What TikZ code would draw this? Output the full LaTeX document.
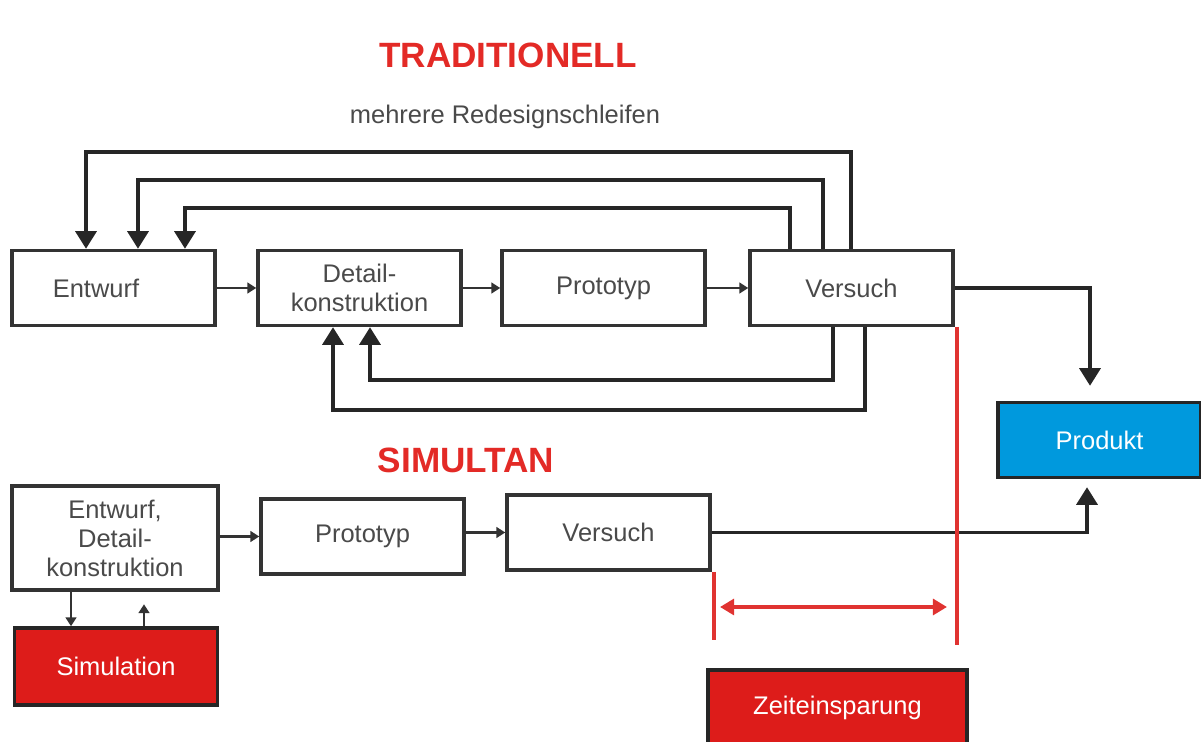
\documentclass[tikz,border=0pt]{standalone}
\usepackage{fontspec}
\setmainfont{Liberation Sans}
\usetikzlibrary{arrows.meta}
\definecolor{boxred}{HTML}{DD1C1A}
\definecolor{titlered}{HTML}{E32A26}
\definecolor{prodblue}{HTML}{0099DD}
\definecolor{txtgrey}{HTML}{4A4A4A}
\tikzset{
  box/.style={draw=black!80, line width=2pt, fill=white, minimum width=4.06cm, minimum height=1.5cm,
    align=center, text=txtgrey, font=\fontsize{14.5}{16.5}\selectfont},
  flow/.style={draw=black!80, line width=1.6pt, -{Triangle[length=5pt,width=6pt]}},
  fb/.style={draw=black!85, line width=1.8pt, -{Triangle[length=10pt,width=12pt]}},
  zeit/.style={draw=boxred!90, line width=2.2pt},
}
\begin{document}
\begin{tikzpicture}[x=0.02cm,y=-0.02cm]
		\useasboundingbox (0,0) rectangle (1201,742);

		\node[font=\bfseries\fontsize{20}{24}\selectfont, text=titlered] (trad) at (508,55) {TRADITIONELL};
		\node[font=\fontsize{14.5}{16}\selectfont, text=txtgrey] (redes) at (505,117) {mehrere Redesignschleifen};
		\node[font=\bfseries\fontsize{20}{24}\selectfont, text=titlered] (simu) at (466,460) {SIMULTAN};

		% traditionell
		\node[box] (ent) at (113.5,288) {\hspace*{-0.7cm}Entwurf};
		\node[box] (det) at (359.5,288) {Detail-\\konstruktion};
		\node[box] (pro) at (603.5,288) {Prototyp};
		\node[box] (ver) at (851.5,288) {Versuch};
		\node[box, fill=prodblue, text=white, draw=black!85] (prod) at (1099.5,440) {Produkt};

		\draw[flow] (ent) -- (det);
		\draw[flow] (det) -- (pro);
		\draw[flow] (pro) -- (ver);

		\draw[fb] ([xshift=-0.01cm]ver.north) |- (500,152) -| ([xshift=-0.55cm]ent.north);
		\draw[fb] ([xshift=-0.57cm]ver.north) |- (500,180) -| ([xshift=0.49cm]ent.north);
		\draw[fb] ([xshift=-1.23cm]ver.north) |- (500,208) -| ([xshift=1.43cm]ent.north);

		\draw[fb] ([xshift=-0.37cm]ver.south) |- (600,380) -| ([xshift=0.21cm]det.south);
		\draw[fb] ([xshift=0.27cm]ver.south) |- (600,410) -| ([xshift=-0.53cm]det.south);

		\draw[fb, shorten >=0.3cm] (ver.east) -| ([xshift=-0.19cm]prod.north);

		% simultan
		\node[box, minimum width=4.12cm, minimum height=2.08cm] (ent2) at (115,538) {Entwurf,\\Detail-\\konstruktion};
		\node[box] (pro2) at (362.5,536.5) {Prototyp};
		\node[box] (ver2) at (608.5,532.5) {Versuch};
		\node[box, fill=boxred, text=white, draw=black!85, minimum height=1.54cm] (sim) at (116,666.5) {Simulation};
		\node[box, fill=boxred, text=white, draw=black!85, minimum width=5.18cm] (spar) at (837.5,707.5) {Zeiteinsparung};

		\draw[flow] (ent2.east |- pro2) -- (pro2);
		\draw[flow] (pro2.east |- ver2) -- (ver2);
		\draw[flow] ([xshift=-0.88cm]ent2.south) -- ([xshift=-0.88cm]ent2.south |- sim.north);
		\draw[flow, shorten >=0.25cm] ([xshift=0.58cm]ent2.south |- sim.north) -- ([xshift=0.58cm]ent2.south);
		\draw[fb, shorten >=0.16cm] (ver2.east) -| ([xshift=-0.25cm]prod.south);

		% zeitersparnis
		\coordinate (z1) at (957,327);
		\coordinate (z2) at (957,645);
		\coordinate (z3) at (714,572);
		\coordinate (z4) at (714,640);
		\draw[zeit] (z1) -- (z2);
		\draw[zeit] (z3) -- (z4);
		\draw[zeit, {Triangle[length=8pt,width=9pt]}-{Triangle[length=8pt,width=9pt]}] (720,607) coordinate (za) -- (947,607) coordinate (zb);
	\end{tikzpicture}
\end{document}
